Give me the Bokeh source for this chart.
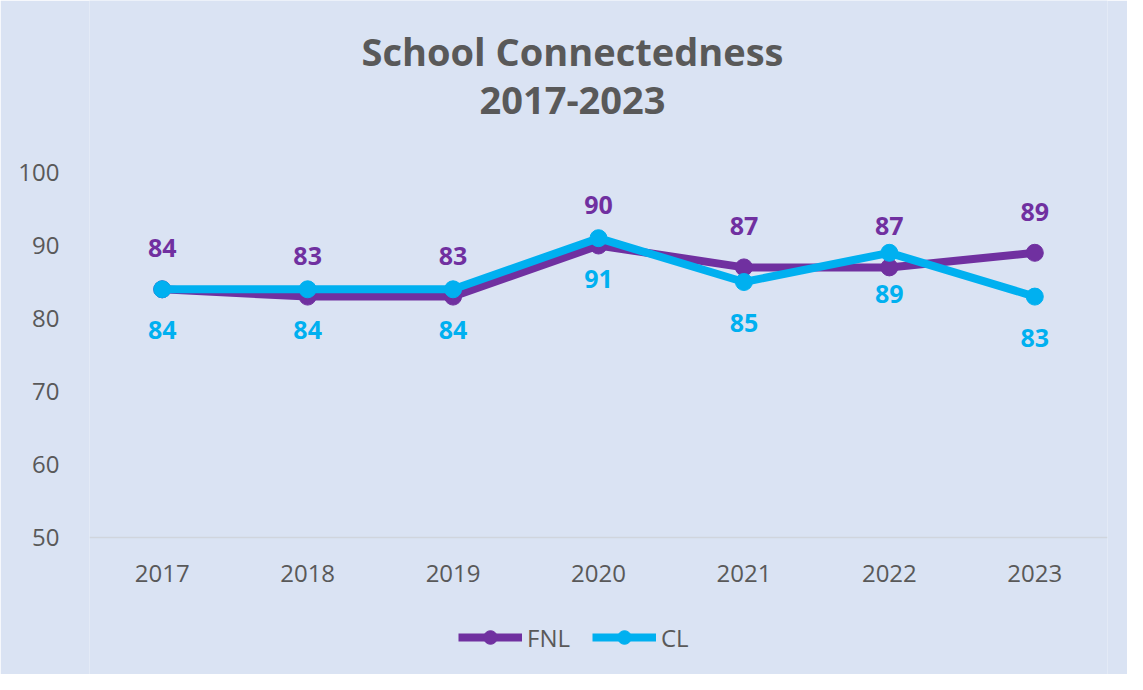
from bokeh.plotting import figure
from bokeh.models import Legend, LegendItem, Label, FixedTicker, ColumnDataSource
from bokeh.core.properties import value
from bokeh.embed import file_html
from bokeh.resources import INLINE

years = ["2017", "2018", "2019", "2020", "2021", "2022", "2023"]
fnl = [84, 83, 83, 90, 87, 87, 89]
cl = [84, 84, 84, 91, 85, 89, 83]
y_ticks = [50, 60, 70, 80, 90, 100]
title_lines = ["School Connectedness", "2017-2023"]

BG = "#dae3f3"
PURPLE = "#7030a0"
BLUE = "#00b0f0"
GRAY = "#595959"
FONT = "Open Sans"

W, H = 1127, 674
AX_TOP, AX_BOTTOM = 172, 537          # pixel rows of y=100 and y=50
PX = (AX_BOTTOM - AX_TOP) / 50.0      # pixels per unit
y_top = 100 + AX_TOP / PX
y_bot = 50 - (H - AX_BOTTOM) / PX

p = figure(width=W, height=H, x_range=years, y_range=(y_bot, y_top),
           output_backend="svg", toolbar_location=None,
           min_border_left=89, min_border_right=20, min_border_top=0, min_border_bottom=0)
p.background_fill_color = BG
p.border_fill_color = BG
p.outline_line_color = None
p.x_range.range_padding = 0
p.xgrid.grid_line_color = None
p.ygrid.grid_line_color = None

p.yaxis.ticker = FixedTicker(ticks=y_ticks)
p.yaxis.axis_line_color = None
p.yaxis.major_tick_line_color = None
p.yaxis.minor_tick_line_color = None
p.yaxis.major_label_text_color = GRAY
p.yaxis.major_label_text_font = FONT
p.yaxis.major_label_text_font_size = "24px"
p.yaxis.major_label_standoff = 24

p.xaxis.fixed_location = 50
p.xaxis.axis_line_color = "#d0d5dd"
p.xaxis.axis_line_width = 1.5
p.xaxis.major_tick_line_color = None
p.xaxis.minor_tick_line_color = None
p.xaxis.major_label_text_color = GRAY
p.xaxis.major_label_text_font = FONT
p.xaxis.major_label_text_font_size = "24px"
p.xaxis.major_label_standoff = 21

src = ColumnDataSource(dict(x=years, fnl=fnl, cl=cl,
                            fnl_t=[str(v) for v in fnl], cl_t=[str(v) for v in cl]))

l1 = p.line("x", "fnl", source=src, line_color=PURPLE, line_width=8)
s1 = p.scatter("x", "fnl", source=src, size=17, color=PURPLE)
l2 = p.line("x", "cl", source=src, line_color=BLUE, line_width=8)
s2 = p.scatter("x", "cl", source=src, size=17, color=BLUE)

p.text("x", "fnl", text="fnl_t", source=src, text_color=PURPLE, text_font=value(FONT),
       text_font_style="bold", text_font_size="25px", text_align="center",
       text_baseline="middle", y_offset=-41)
p.text("x", "cl", text="cl_t", source=src, text_color=BLUE, text_font=value(FONT),
       text_font_style="bold", text_font_size="25px", text_align="center",
       text_baseline="middle", y_offset=41)

legend = Legend(items=[LegendItem(label="FNL", renderers=[l1, s1]),
                       LegendItem(label="CL", renderers=[l2, s2])],
                orientation="horizontal", location=(369, 20),
                background_fill_alpha=0, border_line_color=None,
                label_text_color=GRAY, label_text_font=FONT, label_text_font_size="24px",
                glyph_width=64, glyph_height=34, label_standoff=5, spacing=22,
                margin=0, padding=0)
p.add_layout(legend, "center")

mid_x = len(years) / 2.0   # centre of the categorical axis
for i, line in enumerate(title_lines):
    row = 50 + 50 * i
    p.add_layout(Label(x=mid_x, y=100 + (AX_TOP - row) / PX, text=line, x_offset=-26,
                       text_align="center", text_baseline="middle",
                       text_font=FONT, text_font_size="38px", text_font_style="bold",
                       text_color=GRAY))

open("out.html", "w").write(file_html(p, INLINE))
